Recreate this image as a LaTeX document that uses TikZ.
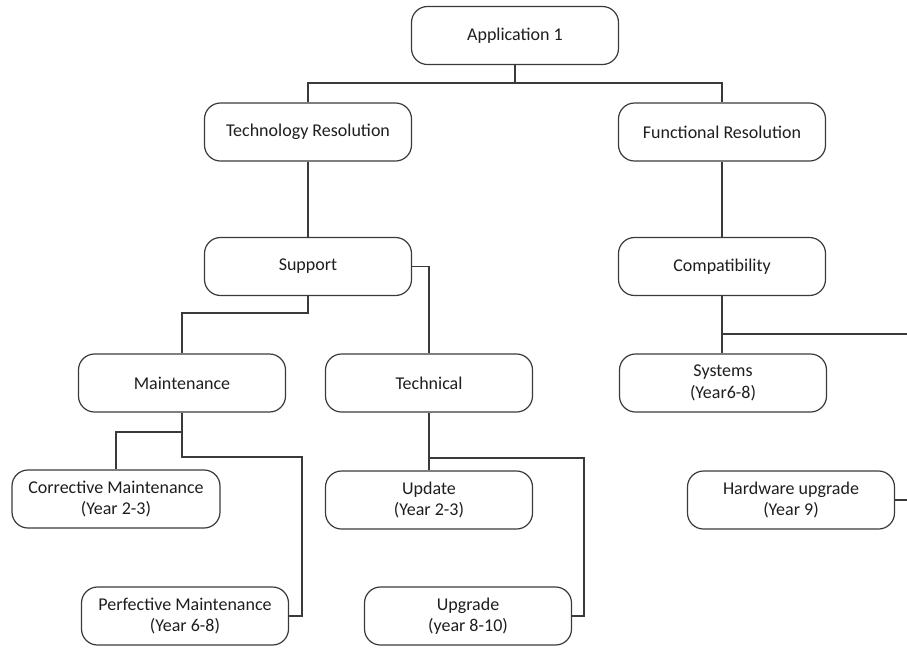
\documentclass[tikz,border=0pt]{standalone}
\usepackage{fontspec}
\setmainfont{Carlito}
\definecolor{boxline}{HTML}{3A3A3A}
\definecolor{txt}{HTML}{1E1E1E}
\begin{document}
\begin{tikzpicture}[x=1pt,y=-1pt,
  box/.style={draw=boxline,line width=1.2pt,rounded corners=16pt,minimum width=207pt,minimum height=58pt,inner sep=0pt,align=center,text=txt,font=\fontsize{18}{21.5}\selectfont},
  conn/.style={draw=boxline,line width=1.2pt}]
\useasboundingbox (0,0) rectangle (907,649);
\node[box] (app) at (515,35.5) {\raisebox{-1pt}{Application 1}};
\node[box] (tech) at (308,132) {\raisebox{-1pt}{Technology Resolution}};
\node[box] (func) at (722,132) {\raisebox{-1pt}{Functional Resolution}};
\node[box] (supp) at (308,266.5) {\raisebox{-1pt}{Support}};
\node[box] (comp) at (722,266.5) {\raisebox{-1pt}{Compatibility}};
\node[box] (maint) at (182,383) {Maintenance};
\node[box] (techn) at (429,383) {Technical};
\node[box] (sys) at (723,383) {Systems\\(Year6-8)};
\node[box,minimum width=208pt] (corr) at (116,499) {Corrective Maintenance\\(Year 2-3)};
\node[box] (upd) at (429,500) {Update\\(Year 2-3)};
\node[box] (hw) at (791,500) {Hardware upgrade\\(Year 9)};
\node[box] (perf) at (185,616) {Perfective Maintenance\\(Year 6-8)};
\node[box] (upg) at (468,616) {Upgrade\\(year 8-10)};
\coordinate (compR) at (907,334);
\coordinate (hwR) at (907,500);
\draw[conn] (app.south) -- (app.south |- 0,83) -| (tech.north);
\draw[conn] (app.south |- 0,83) -| (func.north);
\draw[conn] (tech.south) -- (supp.north);
\draw[conn] (func.south) -- (comp.north);
\draw[conn] (supp.south) -- (supp.south |- 0,313) -| (maint.north);
\draw[conn] (supp.east) -| (techn.north);
\draw[conn] (comp.south) -- (comp.south |- sys.north);
\draw[conn] (comp.south |- compR) -- (compR);
\draw[conn] (hw.east) -- (hwR);
\draw[conn] (maint.south) -- (maint.south |- 0,432) -| (corr.north);
\draw[conn] (maint.south |- 0,432) |- (302,457) |- (perf.east);
\draw[conn] (techn.south) -- (upd.north);
\draw[conn] (techn.south |- 0,458) -- (584,458) |- (upg.east);
\end{tikzpicture}
\end{document}
